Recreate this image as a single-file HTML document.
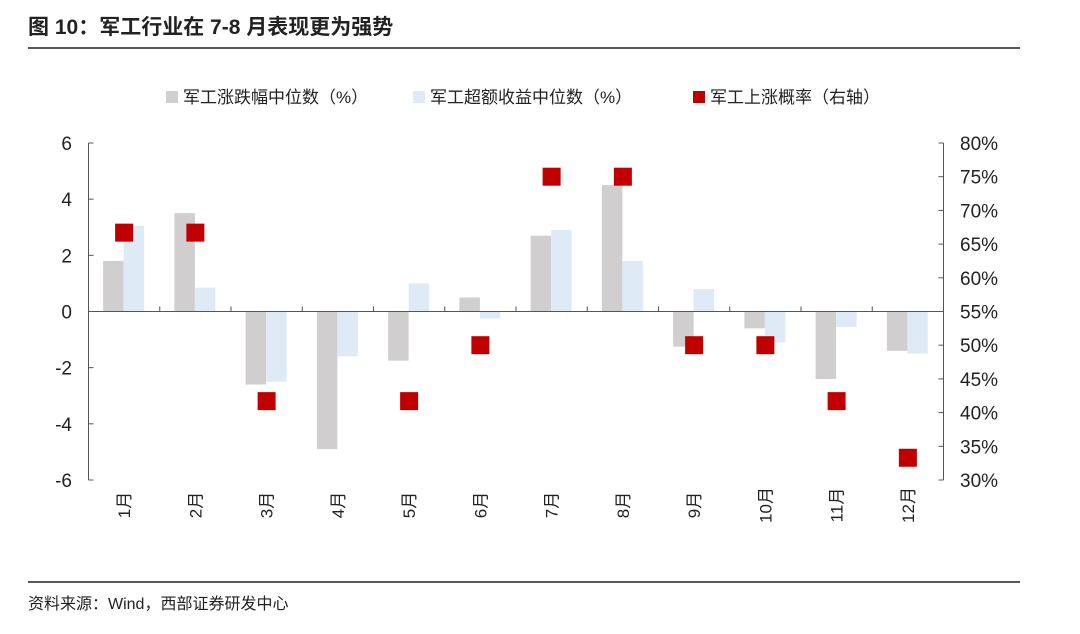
<!DOCTYPE html>
<html><head><meta charset="utf-8"><style>
body{margin:0;background:#fff;width:1080px;height:629px;overflow:hidden;font-family:"Liberation Sans","Noto Sans CJK SC",sans-serif}
</style></head><body>
<svg width="1080" height="629" xmlns="http://www.w3.org/2000/svg" font-family="Liberation Sans, Noto Sans CJK SC, sans-serif">
<text x="28" y="34" font-size="21" font-weight="bold" fill="#222">图 10：军工行业在 7-8 月表现更为强势</text>
<line x1="28" y1="48" x2="1020" y2="48" stroke="#222" stroke-width="1.5"/>
<g font-size="17" fill="#222">
<rect x="166" y="91" width="12" height="12" fill="#d0cece"/>
<text x="183" y="103">军工涨跌幅中位数（%）</text>
<rect x="413" y="91" width="12" height="12" fill="#deebf7"/>
<text x="430" y="103">军工超额收益中位数（%）</text>
<rect x="693" y="91" width="12" height="12" fill="#c00000"/>
<text x="710" y="103">军工上涨概率（右轴）</text>
</g>
<g id="plot"></g>
<line x1="28" y1="582" x2="1020" y2="582" stroke="#222" stroke-width="1.5"/>
<text x="28" y="609" font-size="16" fill="#222">资料来源：Wind，西部证券研发中心</text>
</svg>
<script>
const categories=["1月","2月","3月","4月","5月","6月","7月","8月","9月","10月","11月","12月"];
const changeMedian=[1.8,3.5,-2.6,-4.9,-1.75,0.5,2.7,4.5,-1.25,-0.6,-2.4,-1.4];
const excessMedian=[3.05,0.85,-2.5,-1.6,1.0,-0.25,2.9,1.8,0.8,-1.1,-0.55,-1.5];
const upProb=[66.7,66.7,41.7,null,41.7,50,75,75,50,50,41.7,33.3];
const leftTicks=[6,4,2,0,-2,-4,-6];
const rightTicks=[80,75,70,65,60,55,50,45,40,35,30];

const NS="http://www.w3.org/2000/svg";
const g=document.getElementById('plot');
const X0=88.5,X1=943.5,YT=143,YB=480;
const yL=v=>YT+(6-v)/12*(YB-YT);
const yR=v=>YT+(80-v)/50*(YB-YT);
const bw=(X1-X0)/categories.length;
const xC=i=>X0+bw*(i+0.5);
function mk(t,a){const e=document.createElementNS(NS,t);for(const k in a)e.setAttribute(k,a[k]);g.appendChild(e);return e;}
categories.forEach((c,i)=>{
  const v=changeMedian[i],y0=yL(0),y=yL(v);
  const r=mk('rect',{x:xC(i)-21,y:Math.min(y,y0),width:20.5,height:Math.abs(y-y0),fill:'#d0cece'});
  
  
  const v2=excessMedian[i],y2=yL(v2);
  const r2=mk('rect',{x:xC(i)-0.5,y:Math.min(y2,y0),width:20.5,height:Math.abs(y2-y0),fill:'#deebf7'});
  
  
});
let a=mk('line',{x1:X0,y1:YT,x2:X0,y2:YB,stroke:'#555','stroke-width':1});

a=mk('line',{x1:X1,y1:YT,x2:X1,y2:YB,stroke:'#555','stroke-width':1});

a=mk('line',{x1:X0,y1:yL(0),x2:X1,y2:yL(0),stroke:'#555','stroke-width':1});

for(let i=1;i<categories.length;i++){
  const t=mk('line',{x1:X0+bw*i,y1:yL(0),x2:X0+bw*i,y2:yL(0)-5,stroke:'#555'});
  
}
leftTicks.forEach(v=>{
  const t=mk('line',{x1:X0,y1:yL(v),x2:X0+5,y2:yL(v),stroke:'#555'});
  
  const l=mk('text',{x:72,y:yL(v)+7,'font-size':19,'text-anchor':'end',fill:'#222'});l.textContent=v;
  
});
rightTicks.forEach(v=>{
  const t=mk('line',{x1:X1,y1:yR(v),x2:X1-5,y2:yR(v),stroke:'#555'});
  
  const l=mk('text',{x:960,y:yR(v)+7,'font-size':19,fill:'#222'});l.textContent=v+'%';
  
});
categories.forEach((c,i)=>{
  const l=mk('text',{x:0,y:0,'font-size':17,'text-anchor':'middle',fill:'#222',transform:`translate(${xC(i)+6},505) rotate(-90)`});
  l.textContent=c;
  
});
upProb.forEach((v,i)=>{
  if(v==null)return;
  const m=mk('rect',{x:xC(i)-9,y:yR(v)-9,width:18,height:18,fill:'#c00000'});
  
  
});
</script>
</body></html>
